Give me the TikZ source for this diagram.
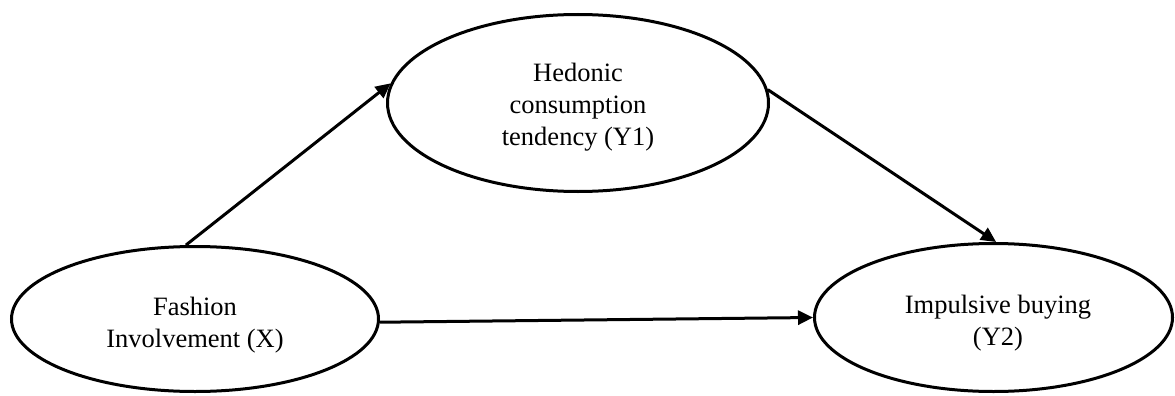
\documentclass[tikz,border=0pt]{standalone}
\usepackage{fontspec}
\setmainfont{Liberation Serif}
\usetikzlibrary{shapes.geometric,arrows.meta}
\begin{document}
\begin{tikzpicture}[x=1pt,y=-1pt,
  construct/.style={draw=black,line width=3pt,ellipse,inner sep=0pt},
  label text/.style={align=center,inner sep=0pt,font=\fontsize{26.5}{31.7}\selectfont},
  path arrow/.style={draw=black,line width=3pt,-{Triangle[length=15pt,width=14pt]}}]
\useasboundingbox (0,0) rectangle (1175,396);
\node[construct,minimum width=367pt,minimum height=145pt] (fi) at (195,319) {};
\node[construct,minimum width=381pt,minimum height=177pt] (hc) at (578,103) {};
\node[construct,minimum width=358pt,minimum height=148pt] (ib) at (993.5,317.5) {};
\node[label text] (fit) at (195,324.9) {Fashion\\Involvement (X)};
\node[label text] (hct) at (578,107.3) {Hedonic\\consumption\\tendency (Y1)};
\node[label text] (ibt) at (998,322.9) {Impulsive buying\\(Y2)};
\draw[path arrow] (fi.97.7) -- (hc.174.6);
\draw[path arrow] (hc.4.5) -- (ib.88);
\draw[path arrow] (fi.-1) -- (ib.180);
\end{tikzpicture}
\end{document}
